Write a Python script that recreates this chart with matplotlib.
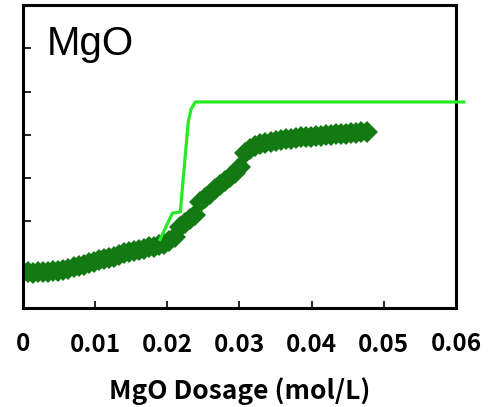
import matplotlib
matplotlib.use("Agg")
import matplotlib.pyplot as plt

# MgO dosage (mol/L) and measured response
dosage = [0.0000, 0.0007, 0.0014, 0.0021, 0.0028, 0.0035, 0.0042, 0.0049, 0.0056, 0.0063,
          0.0070, 0.0077, 0.0084, 0.0091, 0.0098, 0.0105, 0.0112, 0.0119, 0.0126, 0.0133,
          0.0140, 0.0147, 0.0154, 0.0161, 0.0168, 0.0175, 0.0182, 0.0189, 0.0196, 0.0203,
          0.0210, 0.0217, 0.0224, 0.0231, 0.0238, 0.0245, 0.0252, 0.0259, 0.0266, 0.0273,
          0.0280, 0.0287, 0.0294, 0.0301, 0.0308, 0.0315, 0.0322, 0.0329, 0.0336, 0.0343,
          0.0350, 0.0357, 0.0364, 0.0371, 0.0378, 0.0385, 0.0392, 0.0399, 0.0406, 0.0413,
          0.0420, 0.0427, 0.0434, 0.0441, 0.0448, 0.0455, 0.0462, 0.0469, 0.0476]
measured = [0.83, 0.83, 0.82, 0.83, 0.83, 0.84, 0.85, 0.86, 0.88, 0.91,
            0.94, 0.97, 1.00, 1.03, 1.07, 1.10, 1.13, 1.16, 1.19, 1.22,
            1.26, 1.29, 1.31, 1.34, 1.37, 1.40, 1.42, 1.45, 1.49, 1.55,
            1.63, 1.88, 1.97, 2.06, 2.15, 2.45, 2.55, 2.63, 2.74, 2.85,
            2.93, 3.02, 3.12, 3.25, 3.58, 3.68, 3.74, 3.78, 3.81, 3.84,
            3.86, 3.88, 3.90, 3.91, 3.93, 3.94, 3.95, 3.96, 3.97, 3.98,
            3.99, 4.00, 4.01, 4.02, 4.03, 4.04, 4.05, 4.06, 4.07]

# calculated curve
calc_dosage = [0.0189, 0.0207, 0.0218, 0.0229, 0.0233, 0.0239, 0.0613]
calc_value = [1.55, 2.19, 2.22, 4.30, 4.60, 4.76, 4.76]

x_ticks = [0, 0.01, 0.02, 0.03, 0.04, 0.05, 0.06]
x_tick_labels = ["0", "0.01", "0.02", "0.03", "0.04", "0.05", "0.06"]
y_ticks = [1, 2, 3, 4, 5, 6]

fig = plt.figure(figsize=(4.89, 4.07), dpi=100)
ax = fig.add_axes([0.047, 0.2432, 0.8855, 0.7445])

ax.plot(dosage, measured, linestyle="none", marker="D", markersize=11.5,
        color="#137a13", markeredgewidth=0, zorder=2)
ax.plot(calc_dosage, calc_value, color="#26ea26", linewidth=2.3,
        clip_on=False, zorder=3, solid_capstyle="butt")

ax.set_xlim(0, 0.06)
ax.set_ylim(0, 7)
ax.set_xticks(x_ticks[1:-1])
ax.set_yticks(y_ticks)
ax.set_yticklabels([])
ax.set_xticklabels(x_tick_labels[1:-1])

for s in ax.spines.values():
    s.set_linewidth(2.2)

cjk = ["Noto Sans CJK JP", "DejaVu Sans"]
ax.tick_params(axis="x", direction="in", length=5, width=1.2, pad=18)
ax.tick_params(axis="y", direction="in", length=6, width=1.2)
for lbl in ax.get_xticklabels():
    lbl.set_fontfamily(cjk)
    lbl.set_fontweight("bold")
    lbl.set_fontsize(17.5)

# end labels at the spines
trans = ax.get_xaxis_transform()
for xv, txt in [(x_ticks[0], x_tick_labels[0]), (x_ticks[-1], x_tick_labels[-1])]:
    ax.text(xv, -0.118, txt, transform=trans, ha="center", va="center",
            clip_on=False, family=cjk, weight="bold", size=17.5)

ax.set_xlabel("MgO Dosage (mol/L)", fontfamily=cjk,
              fontweight="bold", fontsize=19, labelpad=14.5)

ax.text(0.055, 0.935, "MgO", transform=ax.transAxes, fontfamily="Liberation Sans",
        fontsize=29, ha="left", va="top")

fig.savefig("out.png", dpi=100)
